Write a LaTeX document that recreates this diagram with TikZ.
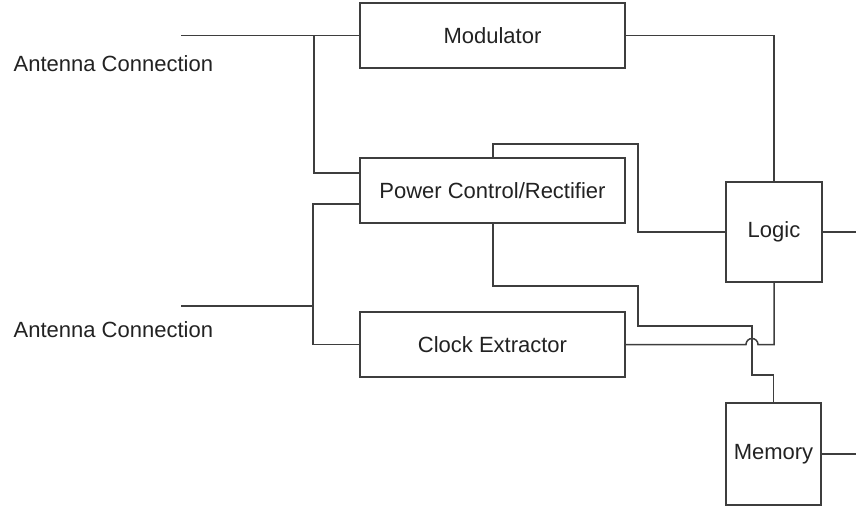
\documentclass[tikz,border=0pt]{standalone}
\usepackage{fontspec}
\setmainfont{Liberation Sans}
\definecolor{ink}{RGB}{62,62,62}
\definecolor{txt}{RGB}{34,34,34}
\begin{document}
\begin{tikzpicture}[x=1pt,y=-1pt,
  wire/.style={draw=ink, line width=1.5pt},
  blk/.style={draw=ink, line width=1.5pt, fill=white, inner sep=0pt,
    text=txt, font=\fontsize{22}{26}\selectfont},
  lbl/.style={anchor=west, inner sep=0pt, text=txt, font=\fontsize{22}{26}\selectfont}]
\useasboundingbox (0,0) rectangle (856,508);

% blocks
\node[blk, minimum width=265pt, minimum height=65pt] (mod) at (492.5,35.5) {Modulator};
\node[blk, minimum width=265pt, minimum height=65pt] (pwr) at (492.5,190.5) {Power Control/Rectifier};
\node[blk, minimum width=265pt, minimum height=65pt] (clk) at (492.5,344.5) {Clock Extractor};
\node[blk, minimum width=96pt, minimum height=100pt] (logic) at (774,232) {Logic};
\node[blk, minimum width=95pt, minimum height=102pt] (mem) at (773.5,454) {Memory};

% antenna labels
\node[lbl] (ant1) at (13.5,64) {Antenna Connection};
\node[lbl] (ant2) at (13.5,329.5) {Antenna Connection};

% free wire ends and corners
\coordinate (a1) at (181,35.5);
\coordinate (a2) at (181,306);
\coordinate (j1) at (314,35.5);
\coordinate (j2) at (313,306);
\coordinate (outL) at (856,232);
\coordinate (outM) at (856,454);

% antenna feeds
\draw[wire] (a1) -- (mod.west);
\draw[wire] (j1) -- (314,173) -- (pwr.west |- 0,173);
\draw[wire] (a2) -- (j2);
\draw[wire] (pwr.west |- 0,204) -- (313,204) -- (313,344.5) -- (clk.west);

% modulator to logic
\draw[wire] (mod.east) -| (logic.north);

% power control to logic and memory
\draw[wire] (pwr.north -| 493,0) |- (638,144) |- (logic.west);
\draw[wire] (pwr.south -| 493,0) |- (638,286) |- (752,326) |- (773.5,375) -- (mem.north);

% clock extractor to logic, hopping over the memory feed
\draw[wire] (clk.east) -- (746,344.5)
  arc[start angle=180, end angle=0, radius=6pt] -- (774,344.5) -- (logic.south);

% outputs
\draw[wire] (logic.east) -- (outL);
\draw[wire] (mem.east) -- (outM);
\end{tikzpicture}
\end{document}
